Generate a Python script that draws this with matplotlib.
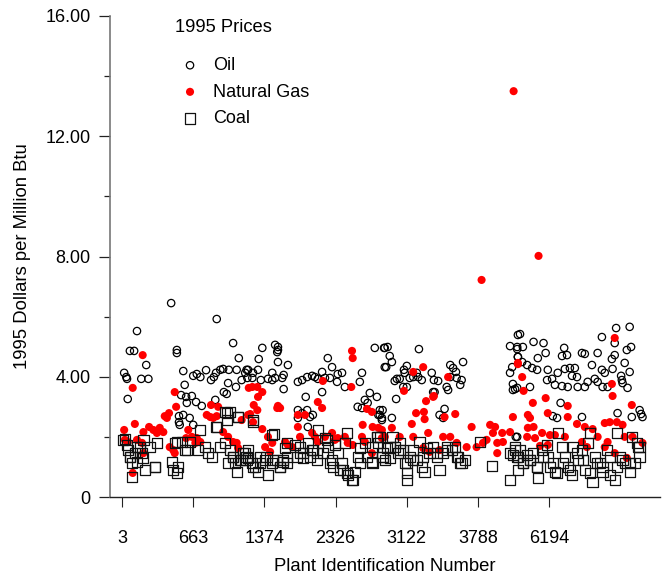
import matplotlib
matplotlib.use('Agg')
import matplotlib.pyplot as plt

plt.rcParams['font.family'] = ['Liberation Sans', 'DejaVu Sans']

# x = plant order (100 units between labelled plants), y = 1995 $/MMBtu
tick_pos = [0, 100, 200, 300, 400, 500, 600]
tick_labels = ['3', '663', '1374', '2326', '3122', '3788', '6194']

oil_x = [69,133,21,11,17,77,77,156,34,3,6,7,27,37,8,86,88,100,105,110,118,125,129,132,138,142,150,161,164,173,175,168,160,149,147,143,131,83,90,91,112,104,98,80,80,81,86,95,100,
         215,219,218,219,197,192,219,233,177,184,191,176,183,195,205,211,215,225,227,227,211,
         247,253,260,267,271,275,281,289,295,303,309,313,302,285,292,337,334,355,368,369,258,281,348,341,331,337,345,358,362,360,365,247,253,260,264,268,261,247,
         369,373,376,379,371,417,400,396,397,386,383,390,404,409,416,421,414,400,395,385,435,438,444,439,437,461,465,469,479,461,470,477,475,458,456,453,451,446,379,366,362,365,545,555,556,548,545,549,549,552,556,553,
         559,555,563,578,592,595,621,625,618,646,650,668,674,694,713,692,688,692,706,709,715,713,660,674,678,689,556,562,569,576,583,584,598,612,622,629,636,639,632,597,604,608,618,626,640,650,654,664,668,675,682,702,703,710,701,555,573,616,605,611,646,696,716,727,731,729,555]
oil_y = [6.45,5.92,5.52,4.86,4.86,4.89,4.79,5.12,4.39,4.13,3.99,3.93,3.93,3.93,3.26,4.19,3.73,4.03,4.09,3.99,4.22,3.89,3.99,4.13,4.23,4.26,4.23,4.23,4.62,4.13,4.23,3.89,3.66,3.79,3.43,3.49,3.23,3.39,3.33,3.13,3.03,3.16,3.36,2.69,2.49,2.40,2.73,2.63,2.40,
         5.06,4.99,4.82,4.89,4.96,4.59,4.49,4.39,4.23,4.13,4.23,3.96,3.96,3.89,3.93,4.13,3.96,3.96,4.06,3.59,3.89,
         3.83,3.89,3.99,4.03,3.99,3.93,4.16,4.62,4.32,4.09,4.13,3.66,3.83,3.96,3.96,4.13,3.83,4.96,4.96,4.32,3.33,3.49,3.46,3.23,3.0,2.96,3.13,3.33,2.89,2.73,2.63,2.63,2.79,2.89,2.66,2.73,2.33,2.89,
         4.96,4.99,4.69,4.49,4.32,4.92,4.36,4.23,4.13,3.93,3.86,3.93,3.96,3.99,3.99,3.89,4.13,3.66,3.66,3.26,4.13,3.89,3.86,3.49,3.49,4.39,4.29,4.16,4.49,3.99,3.96,3.89,3.73,3.56,3.66,2.93,2.63,2.73,2.63,2.89,2.73,2.56,5.02,4.92,4.66,4.32,4.13,3.76,3.56,3.59,5.39,2.0,
         5.42,4.99,4.99,5.16,5.12,4.79,4.96,4.72,4.69,4.79,4.76,4.79,5.32,5.62,5.66,5.12,4.59,4.72,4.46,4.89,4.99,4.16,4.39,4.23,4.13,4.26,4.66,4.49,4.39,4.29,4.23,4.62,4.23,4.13,4.26,4.29,4.29,3.99,4.03,3.89,3.93,3.73,3.69,3.66,3.66,3.66,3.83,3.93,3.83,3.66,3.66,3.89,3.79,3.63,4.03,3.63,3.66,3.13,2.69,2.63,2.66,2.79,2.66,2.89,2.66,2.76,2.0]

gas_x = [29,15,74,76,66,63,60,125,135,119,124,128,133,18,38,44,53,58,49,30,3,4,8,21,28,30,15,93,98,105,110,103,90,67,72,74,142,149,156,161,163,168,178,
         183,190,197,191,185,190,180,184,197,219,222,218,323,324,322,282,275,281,247,257,344,351,338,177,
         205,211,201,208,229,233,239,247,250,267,271,275,285,295,299,303,313,317,324,337,341,352,360,365,351,
         423,409,396,427,437,438,458,413,424,425,407,468,453,491,517,524,521,534,545,549,556,379,365,369,
         409,430,451,461,470,484,498,507,512,527,535,527,423,432,446,390,
         550,585,505,
         556,562,564,577,595,598,570,573,570,578,569,626,626,639,650,661,678,685,695,703,692,688,689,716,608,622,590,601,646,668,682,706,717,731,692,709,653,598,587,580,678]
gas_y = [4.72,3.63,3.49,3.0,2.79,2.63,2.69,3.06,3.0,2.73,2.66,2.63,2.69,2.43,2.33,2.23,2.30,2.16,2.13,2.16,2.23,1.90,1.83,1.90,1.80,1.46,0.80,2.23,2.0,1.96,1.83,1.80,1.96,1.66,1.56,1.46,2.16,2.0,1.83,1.80,1.63,2.56,3.63,
         3.66,3.66,3.49,3.33,3.06,2.89,2.76,2.49,2.26,3.03,2.96,2.96,4.86,4.62,3.66,3.86,3.16,2.96,2.73,2.73,2.93,2.83,2.40,2.73,
         2.0,1.80,1.66,1.50,1.83,1.73,1.66,2.33,2.0,2.13,2.0,1.83,2.0,2.13,1.90,1.96,2.0,1.80,1.73,2.0,1.83,2.33,2.30,1.96,1.46,
         4.32,4.16,3.53,3.19,3.33,3.36,3.99,2.79,2.83,2.59,2.43,2.76,2.66,2.33,2.40,2.33,2.13,2.13,2.16,2.66,4.46,2.30,2.23,2.0,
         2.0,2.13,2.0,2.0,1.80,1.66,1.66,1.80,1.90,1.80,1.83,1.46,1.63,1.50,1.56,2.0,
         13.5,8.02,7.22,
         4.42,3.99,3.53,3.13,3.29,2.79,2.73,2.63,2.30,2.33,2.0,3.03,2.66,2.43,2.33,2.26,2.46,2.49,2.49,2.40,5.29,3.76,3.36,3.06,2.06,2.0,2.13,2.06,1.83,2.0,1.83,2.0,2.0,1.80,1.46,1.30,1.66,1.73,1.70,1.96,1.66]

coal_x = [4,7,8,11,14,14,18,25,28,29,32,46,49,21,
          70,72,77,79,74,84,88,95,107,117,121,126,132,147,152,145,163,138,145,152,156,159,161,168,170,175,177,
          184,213,173,177,183,187,191,194,201,205,211,218,222,226,232,229,243,250,254,261,267,274,275,285,289,295,299,303,309,310,316,317,323,327,331,334,341,351,358,360,366,
          362,366,369,372,376,380,383,388,390,395,397,400,400,404,409,414,418,421,425,428,432,437,442,446,451,456,463,468,472,477,482,503,520,545,549,552,556,559,
          552,556,563,569,573,577,583,584,590,597,598,605,608,612,618,622,626,632,633,640,646,650,654,657,661,664,671,675,681,685,692,695,699,706,713,716,720,725,727,
          149,156,166,175,184,194,203,212,222,226,232,246,254,264,274,282,292,296,306,316,324,334,344,352,358,
          1,11,21,30,39,46,77,91,110,133,147,163,184,211,232,250,268,288,313,
          352,366,376,390,400,409,423,442,456,470,475,545,555,563,573,583,591,601,611,619,629,639,647,657,667,675,685,695,703,713,723,727]
coal_y = [1.93,1.73,1.56,1.33,1.13,0.67,1.46,1.66,1.46,1.30,0.90,1.0,1.80,1.16,
          1.16,0.90,0.80,1.0,1.80,1.83,1.56,1.83,1.56,1.66,1.46,1.33,2.33,2.56,2.83,2.83,2.66,1.66,1.80,1.56,1.33,1.13,0.83,1.23,1.46,1.23,1.56,
          2.49,2.10,1.46,1.30,1.13,1.0,0.83,1.33,1.23,0.73,1.13,1.23,1.0,1.16,1.13,1.63,1.73,1.46,1.30,1.80,1.56,1.46,2.23,1.96,1.66,1.23,1.73,1.46,1.13,0.90,2.13,0.73,0.57,0.83,1.33,1.63,1.80,1.16,2.0,1.80,1.33,
          2.0,1.46,1.23,1.63,1.30,2.0,1.66,1.46,1.80,1.56,1.13,0.80,0.57,1.33,1.56,1.23,1.83,1.0,0.83,1.63,1.46,1.66,1.33,0.90,1.46,1.66,1.56,1.66,1.33,1.13,1.23,1.83,1.03,0.57,1.40,1.66,0.90,1.56,
          1.56,1.33,1.13,1.40,1.23,1.46,1.0,0.63,1.56,1.73,1.33,1.13,0.83,2.13,1.66,1.33,1.0,0.73,1.66,1.23,1.56,0.90,1.80,2.13,0.50,1.33,1.13,0.83,1.56,0.73,0.57,2.13,1.33,1.13,0.83,2.0,1.13,1.66,1.33,
          1.13,1.33,1.23,1.33,1.0,1.13,1.33,1.23,1.0,1.23,1.33,1.33,1.46,1.33,1.23,1.46,1.13,1.0,0.90,0.80,0.57,1.13,1.33,1.66,2.0,
          1.90,1.33,1.66,1.90,1.66,1.0,1.83,1.56,2.23,2.33,2.79,2.66,2.56,2.06,1.80,1.66,1.56,1.90,1.80,
          1.13,1.33,1.66,1.56,1.13,1.23,1.33,1.46,1.56,1.33,1.13,1.46,1.33,1.13,1.23,1.0,1.33,1.0,0.80,1.13,0.90,1.46,1.23,0.80,1.13,1.0,1.33,1.0,1.23,1.13,1.80,1.66]

W, H = 663, 577
fig = plt.figure(figsize=(W / 100, H / 100), dpi=100)
ax = fig.add_axes([110 / W, 1 - 497 / H, 550 / W, (497 - 16) / H])
ax.set_xlim(-16.9, 755.6)
ax.set_ylim(0, 16)

ax.scatter(oil_x, oil_y, s=28, facecolors='none', edgecolors='black', linewidths=0.9, label='Oil', zorder=2)
ax.scatter(gas_x, gas_y, s=34, color='#ff0000', edgecolors='none', label='Natural Gas', zorder=3)
ax.scatter(coal_x, coal_y, s=55, marker='s', facecolors='none', edgecolors='#111111', linewidths=0.9, label='Coal', zorder=4)

for s in ['top', 'right']:
    ax.spines[s].set_visible(False)
ax.spines['left'].set_linewidth(1.2)
ax.spines['left'].set_color('#777777')
ax.spines['bottom'].set_linewidth(1.0)
ax.spines['bottom'].set_color('#222222')

ax.set_yticks([0, 4, 8, 12, 16])
ax.set_yticklabels(['0', '4.00', '8.00', '12.00', '16.00'])
ax.set_yticks([2, 6, 10, 14], minor=True)
ax.tick_params(axis='y', which='major', direction='out', length=8, width=0.9, color='#222222', labelsize=13, pad=6)
ax.tick_params(axis='y', which='minor', direction='out', length=4.3, width=0.9, color='#222222')
ax.set_xticks(tick_pos)
ax.set_xticklabels(tick_labels)
ax.tick_params(axis='x', direction='out', length=7.5, width=0.8, color='#222222', labelsize=13, pad=16.5)

ax.set_xlabel('Plant Identification Number', fontsize=13.3, labelpad=8)
ax.set_ylabel('1995 Dollars per Million Btu', fontsize=13.3, labelpad=10)

fig.text(175 / W, 1 - 28 / H, '1995 Prices', fontsize=13.2, ha='left', va='center')
ax.legend(loc='upper left', bbox_to_anchor=(181 / W, 1 - 57 / H), bbox_transform=fig.transFigure,
          frameon=False, handlelength=1.0, handletextpad=0.77, labelspacing=0.53,
          borderpad=0, borderaxespad=0, scatterpoints=1, fontsize=13)

fig.savefig('out.png', dpi=100)
